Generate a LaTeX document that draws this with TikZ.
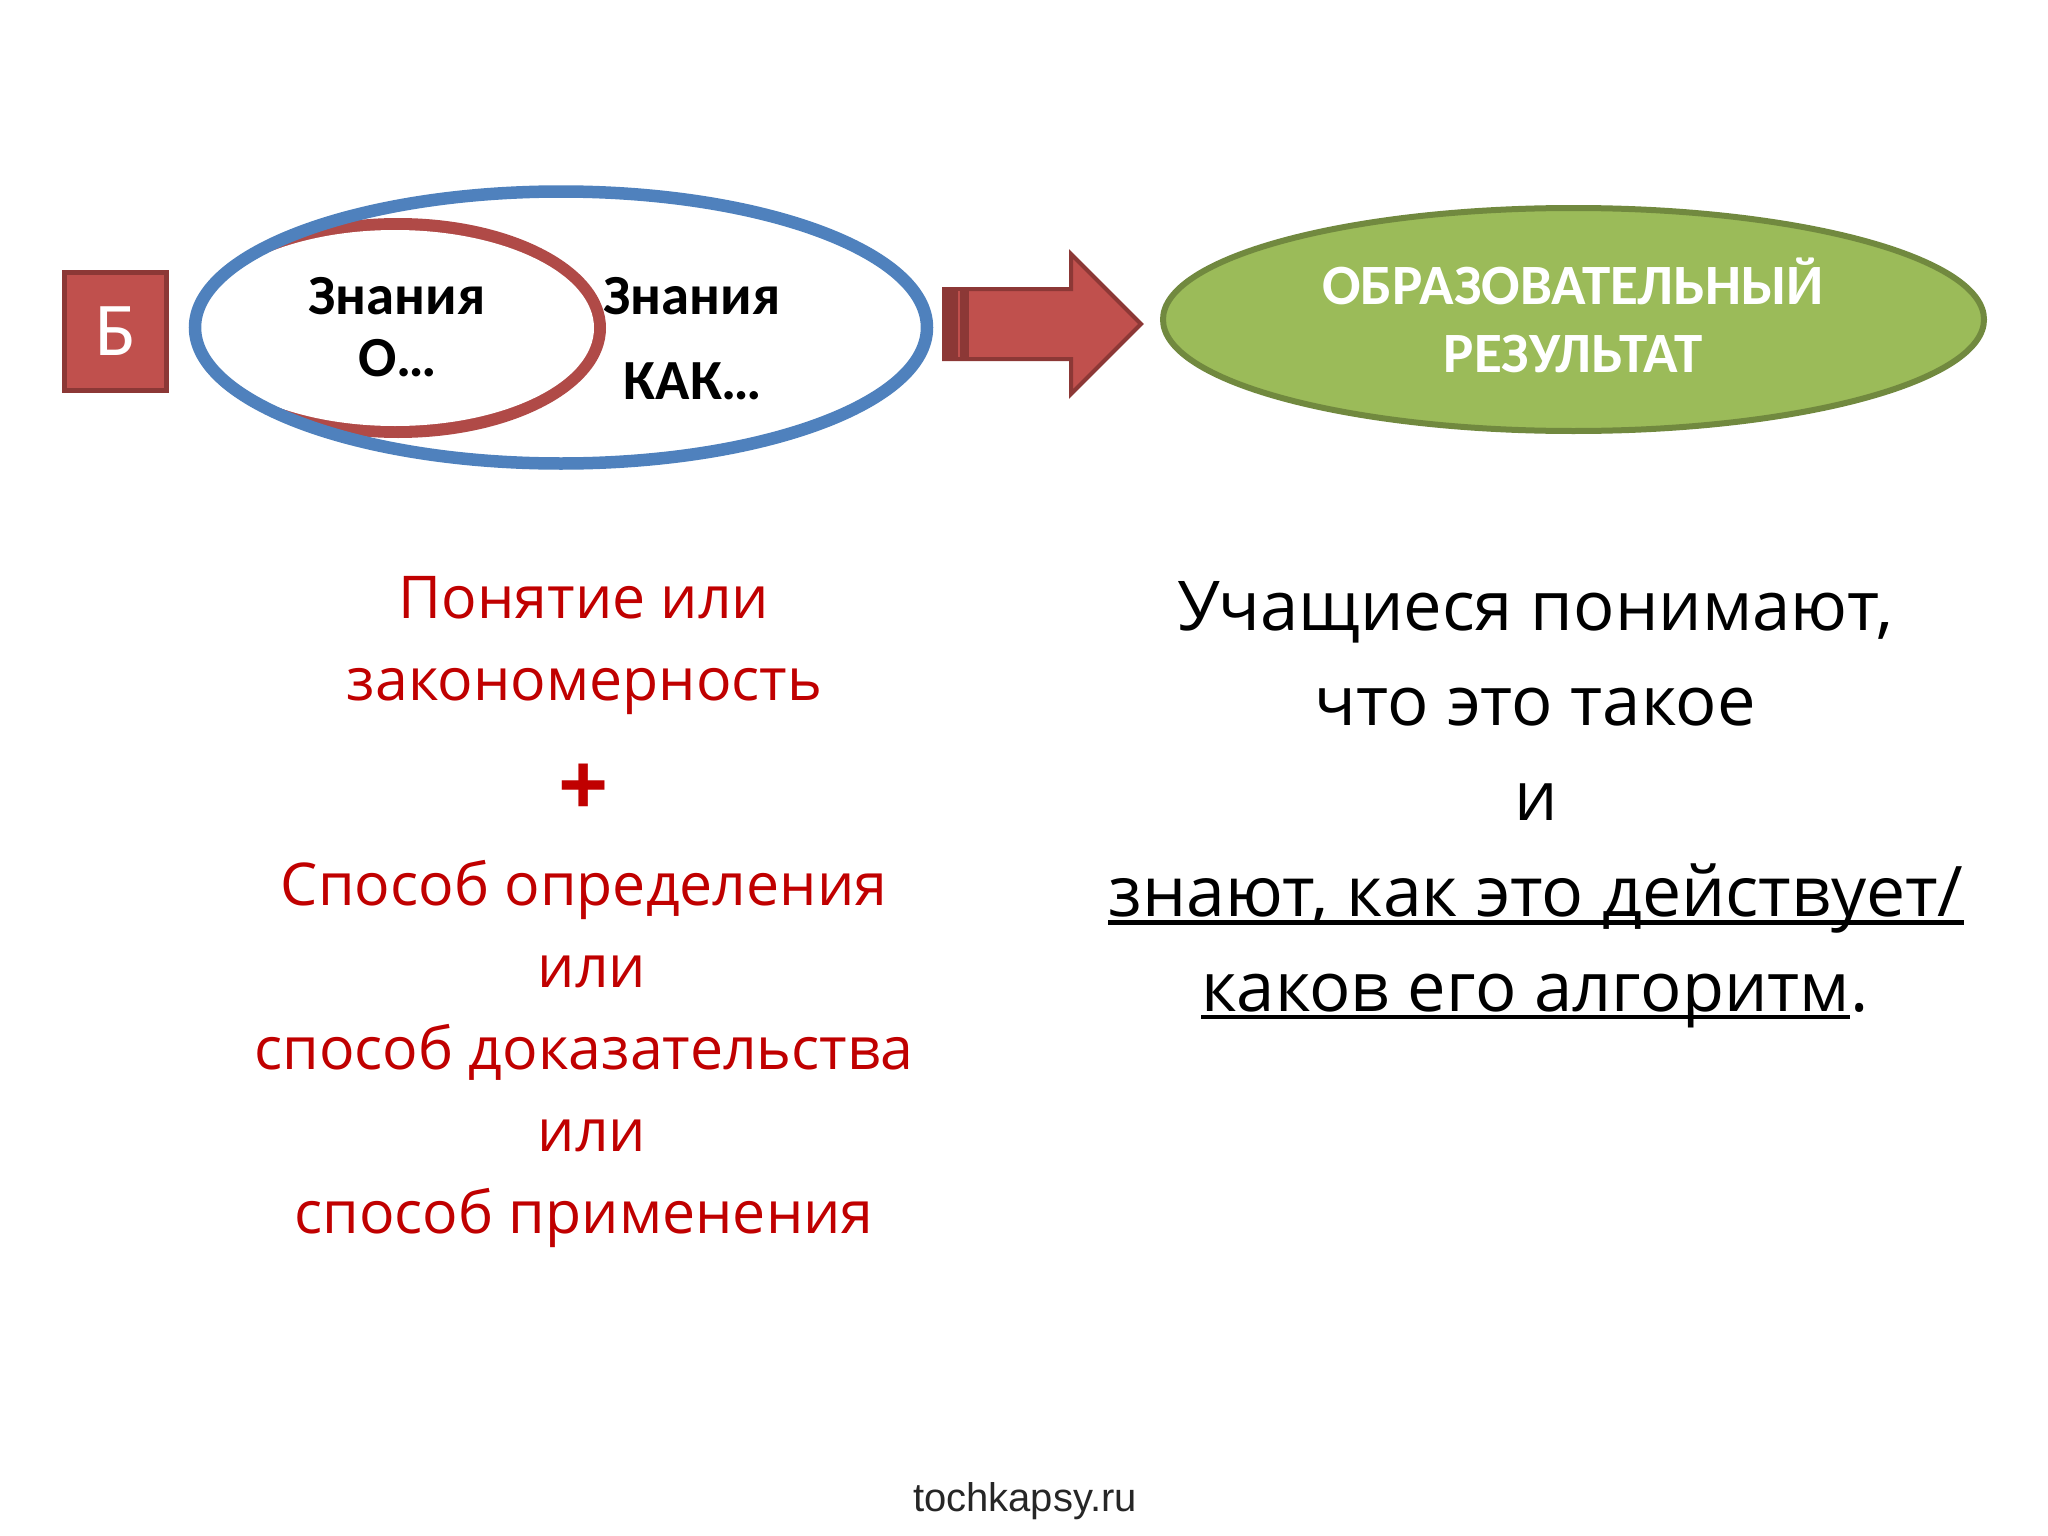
\documentclass[tikz,border=0pt]{standalone}
\usepackage{fontspec}
\setmainfont{Open Sans}
\newfontfamily\calib{Carlito}
\newfontfamily\arialf{Liberation Sans}
\usetikzlibrary{shapes.geometric}
\definecolor{cblue}{HTML}{4F81BD}
\definecolor{cred}{HTML}{C0504D}
\definecolor{credd}{HTML}{8C3836}
\definecolor{credb}{HTML}{B04A47}
\definecolor{cgreen}{HTML}{9BBB59}
\definecolor{cgreend}{HTML}{71893F}
\definecolor{ctxt}{HTML}{C00000}
\newcommand{\ulx}[1]{\setbox0\hbox{#1}\rlap{\raisebox{-0.115em}{\rule{\wd0}{0.06em}}}\box0}
\tikzset{
 redtext/.style={anchor=base,text=ctxt,font=\fontsize{59}{59}\selectfont,inner sep=0pt},
 blacktext/.style={anchor=base,text=black,font=\fontsize{68.7}{68.7}\selectfont,inner sep=0pt},
 blackwide/.style={anchor=base,text=black,font=\fontsize{69.8}{69.8}\selectfont,inner sep=0pt},
 boldtext/.style={anchor=base,text=black,font=\calib\bfseries\fontsize{56.7}{56.7}\selectfont,inner sep=0pt},
 whitebold/.style={anchor=base,text=white,font=\calib\bfseries\fontsize{57}{57}\selectfont,inner sep=0pt},
}
\begin{document}
\begin{tikzpicture}[x=1pt,y=-1pt]
\useasboundingbox (0,0) rectangle (2048,1536);
% B box
\node (bbox) [draw=credd,fill=cred,line width=5pt,minimum width=102pt,minimum height=118pt,inner sep=0pt,text=white,font=\calib\fontsize{76}{76}\selectfont] at (115.5,331) {Б};
% ellipses
\fill[credb] (398,328) ellipse [x radius=208,y radius=110];
\fill[white] (395,328) ellipse [x radius=199,y radius=98];
\draw[cblue,line width=12.5pt] (561,327.5) ellipse [x radius=366,y radius=136];
% arrow
\draw[credd,line width=4pt,fill=cred,line join=miter] (944,289) -- (1071,289) -- (1071,254) -- (1141,324) -- (1071,394) -- (1071,359) -- (944,359) -- cycle;
\fill[credd] (944,289) rectangle (969,359);
\fill[cred] (958,291) rectangle (960,357);
% result
\node (res) [ellipse,draw=cgreend,fill=cgreen,line width=6pt,minimum width=821pt,minimum height=223pt,inner sep=0pt] at (1573.5,319.5) {};
% labels
\node (k1) [boldtext] at (397,314) {Знания};
\node (k2) [boldtext] at (398,376) {О…};
\node (k3) [boldtext] at (692,314) {Знания};
\node (k4) [boldtext] at (693,399) {КАК…};
\node (r1) [whitebold] at (1573,304.5) {ОБРАЗОВАТЕЛЬНЫЙ};
\node (r2) [whitebold] at (1573,372.5) {РЕЗУЛЬТАТ};
% red
\node (a1) [redtext] at (584,618.5) {Понятие или};
\node (a2) [redtext] at (584.5,700.5) {закономерность};
\node (a3) [redtext,font=\bfseries\fontsize{88}{88}\selectfont] at (584,816) {+};
\node (a4) [redtext] at (584,905) {Способ определения};
\node (a5) [redtext] at (592,987) {или};
\node (a6) [redtext] at (584,1069.5) {способ доказательства};
\node (a7) [redtext] at (592,1151.5) {или};
\node (a8) [redtext] at (584,1233.5) {способ применения};
% black
\node (b1) [blacktext] at (1535,630) {Учащиеся понимают,};
\node (b2) [blacktext] at (1535,725) {что это такое};
\node (b3) [blacktext] at (1536,820.5) {и};
\node (b4) [blackwide] at (1536,916.5) {\ulx{знают, как это действует/}};
\node (b5) [blacktext] at (1535,1011.5) {\ulx{каков его алгоритм}.};
\node (foot) [anchor=base,inner sep=0pt,font=\arialf\fontsize{40}{40}\selectfont,text=black!85] at (1025,1511) {tochkapsy.ru};
\end{tikzpicture}
\end{document}
